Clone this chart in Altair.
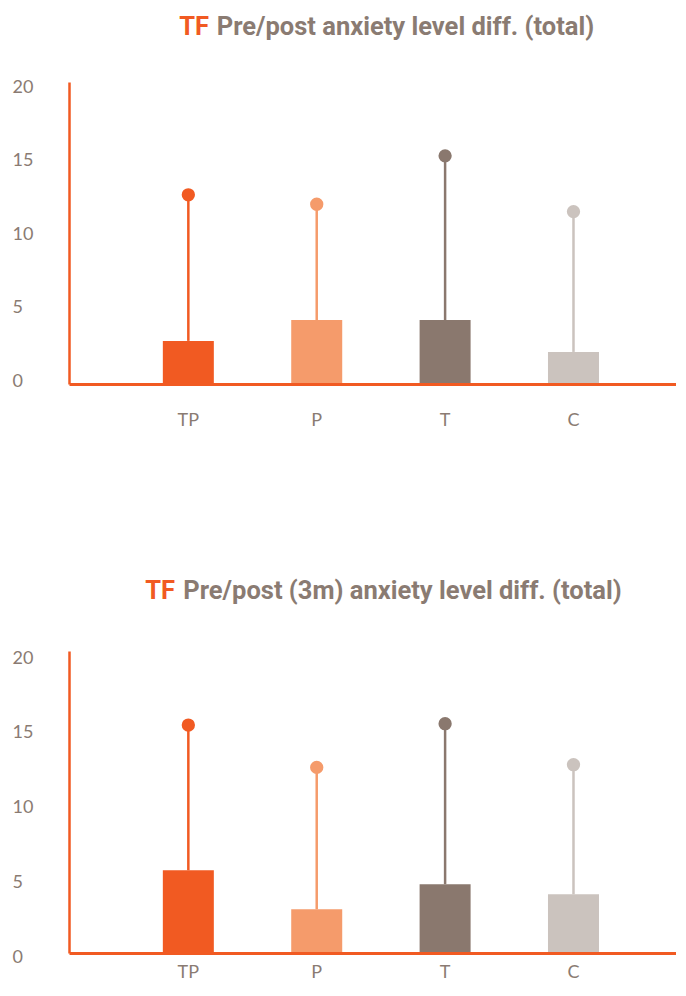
import altair as alt
import pandas as pd

groups = ["TP", "P", "T", "C"]
colors = ["#F15A22", "#F59B6B", "#8A786E", "#CBC3BE"]

post_mean = [2.93, 4.35, 4.35, 2.18]
post_upper = [12.86, 12.22, 15.51, 11.72]

m3_mean = [5.53, 2.92, 4.60, 3.92]
m3_upper = [15.24, 12.41, 15.33, 12.59]

title_prefix = "TF"
title_top = "Pre/post anxiety level diff. (total)"
title_bottom = "Pre/post (3m) anxiety level diff. (total)"
y_ticks = [0, 5, 10, 15, 20]

ORANGE = "#F15A22"
GRAY = "#8A7B72"
FONT = "Lato"
TITLE_FONT = "Roboto"
TITLE_SIZE = 25.5


def panel(mean, upper, title, y_max, label_offset, tf_x, rest_x, title_y, x_pad):
    df = pd.DataFrame({"group": groups, "mean": mean, "upper": upper})
    x = alt.X(
        "group:N",
        sort=groups,
        scale=alt.Scale(paddingInner=0, paddingOuter=0.364, align=0.59),
        axis=alt.Axis(
            title=None, labelAngle=0, domainColor=ORANGE, domainWidth=3,
            ticks=False, tickSize=0, labelPadding=x_pad, labelFontSize=18,
            labelColor=GRAY, labelFont=FONT, zindex=1,
        ),
    )
    yscale = alt.Scale(domain=[0, y_max], nice=False, zero=True)
    yaxis = alt.Axis(
        title=None, values=y_ticks, grid=False, ticks=False, tickSize=0,
        domainColor=ORANGE, domainWidth=2.5, labelAlign="left",
        labelPadding=57, labelOffset=label_offset, labelFontSize=18,
        labelColor=GRAY, labelFont=FONT, zindex=1,
    )
    color = alt.Color("group:N", scale=alt.Scale(domain=groups, range=colors), legend=None)
    base = alt.Chart(df)
    rule = base.mark_rule(strokeWidth=2.5).encode(
        x=x, y=alt.Y("mean:Q", scale=yscale, axis=yaxis), y2="upper:Q", color=color
    )
    bar = base.mark_bar(size=51).encode(
        x=x, y=alt.Y("mean:Q", scale=yscale, axis=yaxis), color=color
    )
    dot = base.mark_circle(size=177, opacity=1).encode(
        x=x, y=alt.Y("upper:Q", scale=yscale, axis=yaxis), color=color
    )
    tf = alt.Chart(alt.Data(values=[{"t": title_prefix}])).mark_text(
        align="right", baseline="alphabetic", font=TITLE_FONT, fontWeight="bold",
        fontSize=TITLE_SIZE, color=ORANGE,
    ).encode(text="t:N", x=alt.value(tf_x), y=alt.value(title_y))
    rest = alt.Chart(alt.Data(values=[{"t": title}])).mark_text(
        align="left", baseline="alphabetic", font=TITLE_FONT, fontWeight="bold",
        fontSize=TITLE_SIZE, color=GRAY,
    ).encode(text="t:N", x=alt.value(rest_x), y=alt.value(title_y))
    return alt.layer(rule, bar, dot, tf, rest).properties(width=607, height=302)


top = panel(post_mean, post_upper, title_top, 20.53, -2.6, 140, 147.7, -46.7, 27)
bottom = panel(m3_mean, m3_upper, title_bottom, 20.19, 4.3, 106, 114.3, -51.7, 10)

chart = (
    alt.vconcat(top, bottom, spacing=267, bounds="flush")
    .properties(padding={"left": 4, "top": 7, "right": 0, "bottom": 0})
    .configure_view(stroke=None)
)

chart.save("out.html", embed_options={"renderer": "svg", "actions": False})
